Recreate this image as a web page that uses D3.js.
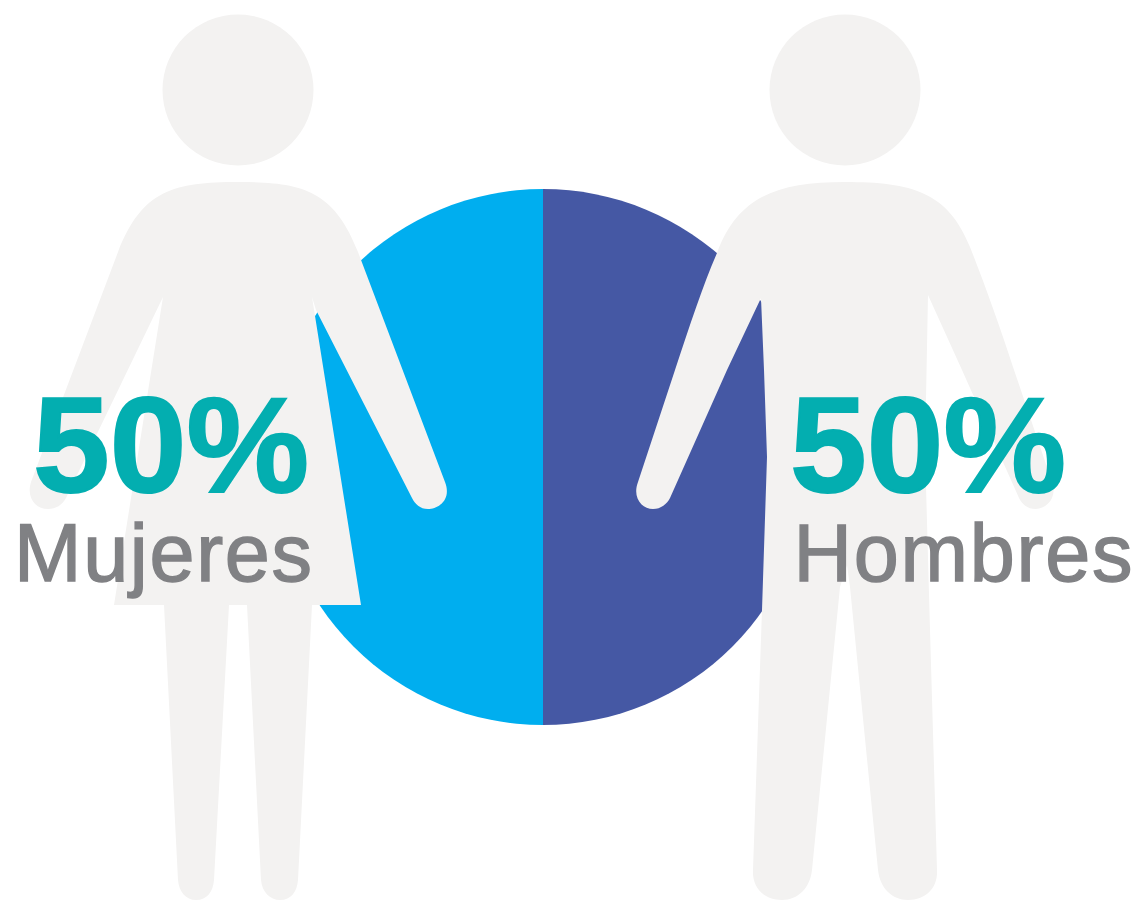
<!DOCTYPE html>
<html><head><meta charset="utf-8">
<script src="https://cdn.jsdelivr.net/npm/d3@7"></script>
<style>html,body{margin:0;padding:0;background:#fff}svg{display:block}</style></head>
<body><svg id="c" width="1139" height="901"></svg>
<script>
const categories=["Mujeres","Hombres"];
const values=[50,50];
const sliceColors=["#00aeef","#4558a4"];
const valueLabels=["50%","50%"];
const svg=d3.select("#c");
const cx=543,cy=457,r=268;
const pie=d3.pie().sort(null).startAngle(2*Math.PI).endAngle(0)(values);
const arc=d3.arc().innerRadius(0).outerRadius(r);
svg.append("g").attr("transform",`translate(${cx},${cy})`).selectAll("path").data(pie).join("path")
 .attr("d",arc).attr("fill",(d,i)=>sliceColors[i]);
const fig="#f3f2f1";
const g=svg.append("g").attr("fill",fig);
// woman
g.append("circle").attr("cx",238).attr("cy",90).attr("r",75.5);
g.append("path").attr("d","M238 182 C302 182 334 190 358 252 L445 482 C452 500 438 509 428 509 C420 509 415 504 412 498 L316 310 L312 297 L361 605 L247 605 L261 880 C262 892 270 900 280 900 C291 900 297 892 298 880 L312 605 L164 605 L178 880 C179 892 186 900 196 900 C207 900 213 892 214 880 L229 605 L114 605 L163 297 L66 498 C62 505 56 509 48 509 C36 509 26 498 31 482 L118 252 C142 190 174 182 238 182 Z");
// man
g.append("circle").attr("cx",845).attr("cy",90).attr("r",75.5);
g.append("path").attr("d","M845 182 C912 182 948 192 970 247 C985 285 1000 327 1013 367 L1052 482 C1058 498 1046 509 1036 509 C1027 509 1022 504 1019 498 L962 370 L928 295 L925 450 L930 630 L937 870 C938 888 926 900 908 900 C892 900 880 888 878 870 L850 587 L847 565 L840 587 L812 870 C810 888 798 900 782 900 C764 900 752 888 753 870 L762 610 L767 457 L764 370 L761 298 L727 370 L670 498 C667 504 661 509 653 509 C642 509 632 498 638 482 L675 370 C690 325 703 285 717 253 C738 196 778 182 845 182 Z");
const teal="#03aeb0",gray="#808184";
const font="'Liberation Sans',Arial,sans-serif";
const tx=[171,928],ty=[492,492],nx=[163,963],ny=[581,581],nw=[298,339];
categories.forEach((c,i)=>{
 svg.append("text").attr("x",tx[i]).attr("y",ty[i]).attr("text-anchor","middle").attr("font-family",font).attr("font-weight",700).attr("font-size",136).attr("fill",teal).attr("stroke",teal).attr("stroke-width",2).attr("textLength",276).attr("lengthAdjust","spacingAndGlyphs").text(valueLabels[i]);
 svg.append("text").attr("x",nx[i]).attr("y",ny[i]).attr("text-anchor","middle").attr("font-family",font).attr("font-size",81).attr("fill",gray).attr("stroke",gray).attr("stroke-width",1.4).attr("textLength",nw[i]).attr("lengthAdjust","spacing").text(c);
});
</script></body></html>
